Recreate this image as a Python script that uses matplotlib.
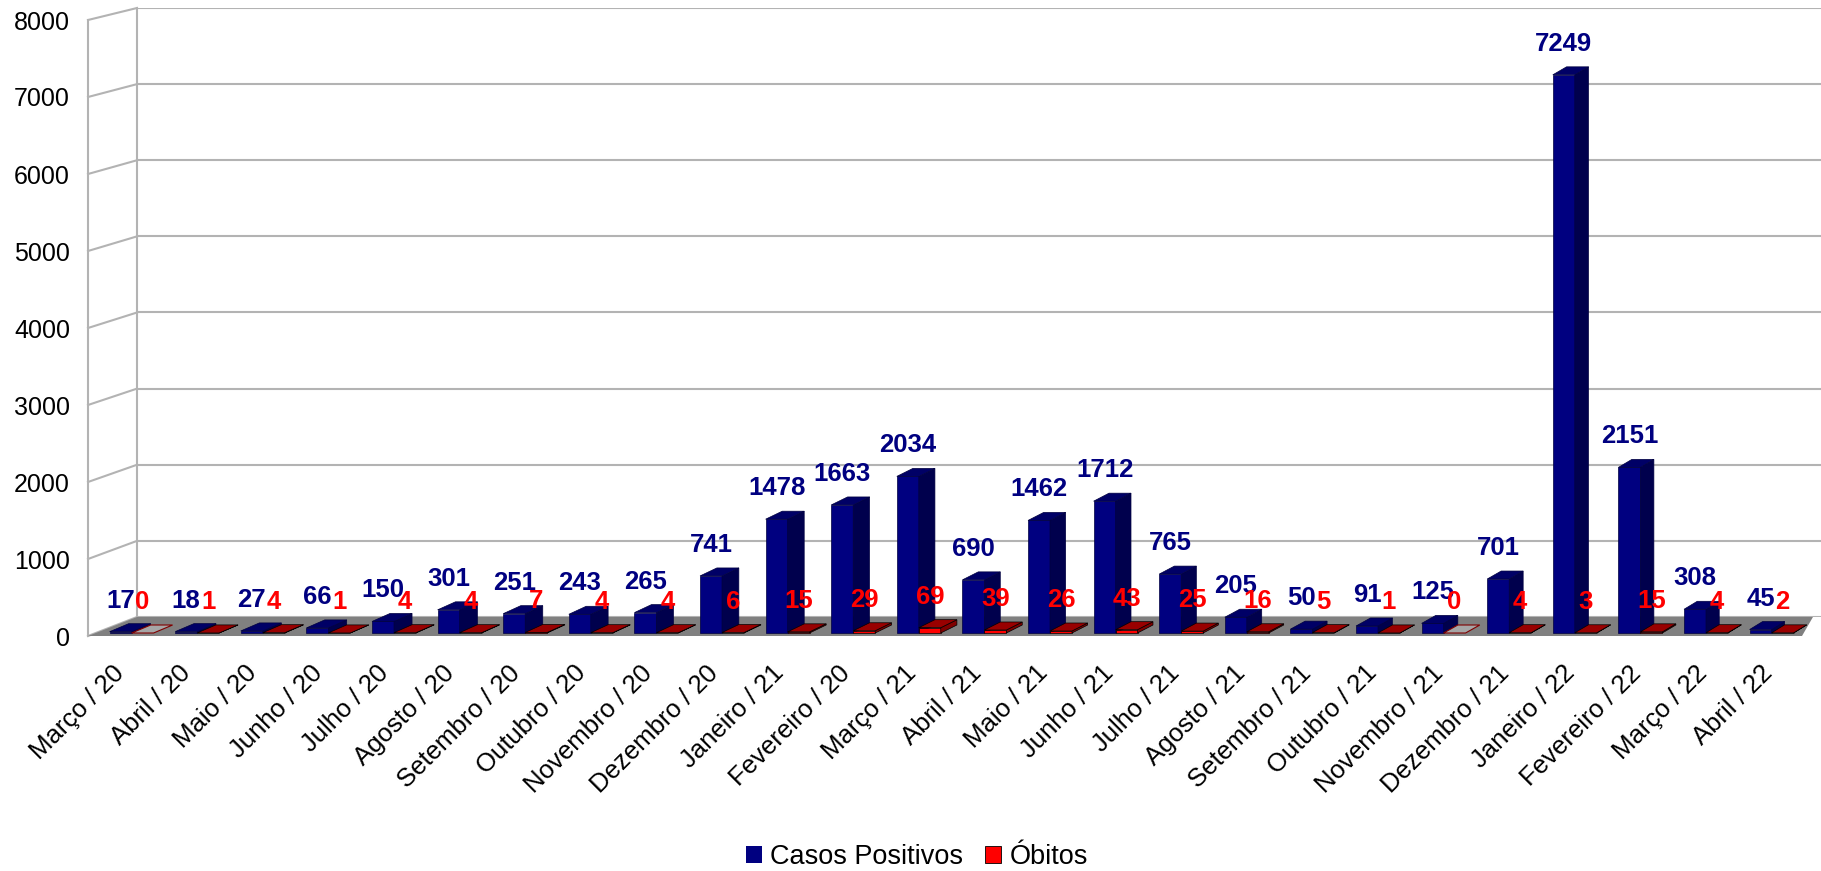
import numpy as np
import matplotlib
matplotlib.use('Agg')
import matplotlib.pyplot as plt
from matplotlib import font_manager
from matplotlib.patches import Polygon, Rectangle
from matplotlib.lines import Line2D
from matplotlib.transforms import offset_copy

meses = ['Março / 20', 'Abril / 20', 'Maio / 20', 'Junho / 20', 'Julho / 20', 'Agosto / 20',
         'Setembro / 20', 'Outubro / 20', 'Novembro / 20', 'Dezembro / 20', 'Janeiro / 21',
         'Fevereiro / 20', 'Março / 21', 'Abril / 21', 'Maio / 21', 'Junho / 21', 'Julho / 21',
         'Agosto / 21', 'Setembro / 21', 'Outubro / 21', 'Novembro / 21', 'Dezembro / 21',
         'Janeiro / 22', 'Fevereiro / 22', 'Março / 22', 'Abril / 22']
casos = [17, 18, 27, 66, 150, 301, 251, 243, 265, 741, 1478, 1663, 2034,
         690, 1462, 1712, 765, 205, 50, 91, 125, 701, 7249, 2151, 308, 45]
obitos = [0, 1, 4, 1, 4, 4, 7, 4, 4, 6, 15, 29, 69,
          39, 26, 43, 25, 16, 5, 1, 0, 4, 3, 15, 4, 2]
yticks = [0, 1000, 2000, 3000, 4000, 5000, 6000, 7000, 8000]

plt.rcParams['font.family'] = ['Liberation Sans', 'DejaVu Sans']

# value labels in the original are a condensed bold face
names = {f.name for f in font_manager.fontManager.ttflist}
if 'Liberation Sans Narrow' in names:
    lab_font, lab_size = ['Liberation Sans Narrow', 'Liberation Sans'], 20
else:
    lab_font, lab_size = ['Liberation Sans', 'DejaVu Sans'], 18.5

W, H = 1821, 871
fig = plt.figure(figsize=(W / 100, H / 100), dpi=100)
n = len(meses)


def px_axes(left, right, bottom, top, z):
    a = fig.add_axes([left / W, 1 - bottom / H, (right - left) / W, (bottom - top) / H])
    a.set_ylim(0, 8000)
    a.patch.set_visible(False)
    a.set_zorder(z)
    for s in a.spines.values():
        s.set_visible(False)
    return a


# three planes of the fake 3D box: back wall, front edge, bar plane
ax_back = px_axes(137, 1821, 617, 8, 0)
ax_back.set_xlim(-0.5, -0.5 + (1821 - 137) / 64.46)
ax_back.axis('off')
ax_front = px_axes(88, 1802, 636, 20, 1)
ax_front.set_xlim(-0.5, n - 0.5)
ax_bar = px_axes(98.8, 1804.4, 633, 17, 2)
ax_bar.set_xlim(-0.5, n - 0.5)
ax_bar.axis('off')


def to_fig(a, x, y, dx=0.0, dy=0.0):
    p = a.transData.transform((x, y)) + np.array([dx, dy])
    return fig.transFigure.inverted().transform(p)


grid_c = '#b3b3b3'
for v in yticks:
    ax_back.axhline(v, color=grid_c, lw=1.5, zorder=0)
    p0 = to_fig(ax_front, -0.5, v)
    p1 = to_fig(ax_back, -0.5, v)
    fig.add_artist(Line2D([p0[0], p1[0]], [p0[1], p1[1]], color=grid_c, lw=1.5, zorder=0.5))
for a in (ax_front, ax_back):
    p0 = to_fig(a, -0.5, 0)
    p1 = to_fig(a, -0.5, 8000)
    fig.add_artist(Line2D([p0[0], p1[0]], [p0[1], p1[1]], color=grid_c, lw=1.5, zorder=0.5))

# floor
floor = [to_fig(ax_front, -0.5, 0), to_fig(ax_front, n - 0.5, 0),
         to_fig(ax_back, n - 0.5, 0), to_fig(ax_back, -0.5, 0)]
fig.add_artist(Polygon(floor, closed=True, facecolor='#808080', edgecolor='none',
                       transform=fig.transFigure, zorder=0.8))

# front axis labels
ax_front.set_yticks(yticks)
ax_front.set_yticklabels([str(v) for v in yticks], fontsize=18)
ax_front.set_xticks(range(n))
ax_front.set_xticklabels(meses, rotation=45, ha='right', va='center',
                         rotation_mode='anchor', fontsize=18.5)
ax_front.tick_params(axis='y', length=0, pad=13)
ax_front.tick_params(axis='x', length=0, pad=24)


def face(pts, fc, ec, lw):
    ax_bar.add_patch(Polygon(pts, closed=True, facecolor=fc, edgecolor=ec, lw=lw,
                             transform=fig.transFigure, clip_on=False, zorder=3))


def bar3d(i, x0, x1, v, front, top, side, edge):
    dx = 19 - 6 * i / (n - 1)
    dy = 8
    tl = to_fig(ax_bar, x0, v)
    tr = to_fig(ax_bar, x1, v)
    br = to_fig(ax_bar, x1, 0)
    bl = to_fig(ax_bar, x0, 0)
    tl2 = to_fig(ax_bar, x0, v, dx, dy)
    tr2 = to_fig(ax_bar, x1, v, dx, dy)
    br2 = to_fig(ax_bar, x1, 0, dx, dy)
    if v > 0:
        face([tl, tr, br, bl], front, edge, 0.5)
        face([tr, tr2, br2, br], side, edge, 0.5)
        face([tl, tr, tr2, tl2], top, edge, 0.5)
    else:
        face([tl, tr, tr2, tl2], '#a6a6a6', side, 0.8)


w = 0.335
lab_tr = offset_copy(ax_bar.transData, fig=fig, x=0, y=24, units='dots')
for i in range(n):
    bar3d(i, i - w, i, casos[i], '#000080', '#000066', '#00004d', '#000040')
    bar3d(i, i, i + w, obitos[i], '#ff0000', '#990000', '#800000', '#000000')
    ax_bar.text(i - w / 2, casos[i], str(casos[i]), transform=lab_tr, ha='center',
                va='baseline', fontsize=lab_size, fontweight='bold', family=lab_font,
                color='#000080', zorder=5, clip_on=False)
    ax_bar.text(i + w / 2, obitos[i], str(obitos[i]), transform=lab_tr, ha='center',
                va='baseline', fontsize=lab_size, fontweight='bold', family=lab_font,
                color='#ff0000', zorder=6, clip_on=False)

# legend
handles = [Rectangle((0, 0), 1, 1, facecolor='#000080', edgecolor='none'),
           Rectangle((0, 0), 1, 1, facecolor='#ff0000', edgecolor='#000000', lw=0.6)]
fig.legend(handles, ['Casos Positivos', 'Óbitos'], loc='center',
           bbox_to_anchor=(917 / W, 1 - 857 / H), ncol=2, frameon=False, fontsize=19.5,
           handlelength=0.6, handleheight=0.6, handletextpad=0.3, columnspacing=0.8)

fig.savefig('out.png', dpi=100)
